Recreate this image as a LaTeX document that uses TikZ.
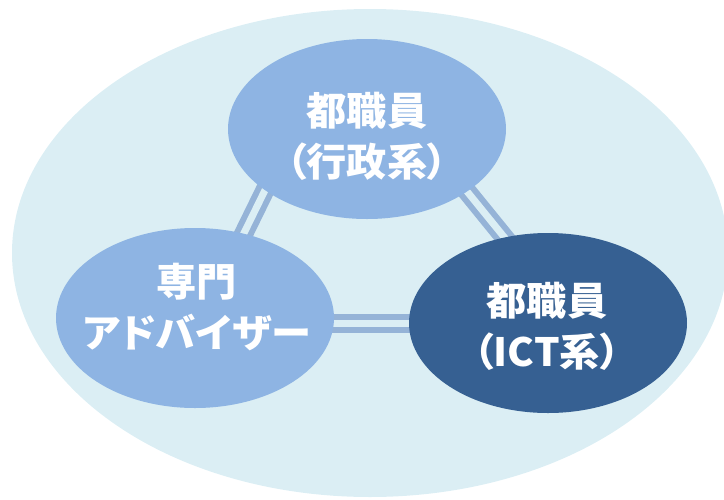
\documentclass[tikz,border=0pt]{standalone}
\usepackage{fontspec}
\newfontfamily\jpfont{Noto Sans CJK JP}[RawFeature=+palt,FakeStretch=1.03]
\usetikzlibrary{shapes.geometric,backgrounds}
\definecolor{bgfill}{HTML}{DBEEF4}
\definecolor{lightblue}{HTML}{8EB4E3}
\definecolor{darkblue}{HTML}{366092}
\definecolor{linkcol}{HTML}{95B3D7}
\tikzset{
  member/.style={ellipse, minimum width=278pt, minimum height=180pt, inner sep=0pt, draw=none},
  lbl/.style={text=white, align=center, font=\jpfont\bfseries\fontsize{39pt}{51pt}\selectfont},
  link/.style={draw=linkcol, line width=6pt, double=bgfill, double distance=7pt, shorten <=-6pt, shorten >=-6pt}
}
\begin{document}
\begin{tikzpicture}[x=1pt,y=-1pt]
\useasboundingbox (0,0) rectangle (724,499);
\node[member, fill=lightblue] (top) at (367,129) {};
\node[member, fill=lightblue] (left) at (195,318) {};
\node[member, fill=darkblue] (right) at (548,323) {};
\node[lbl] (toptxt) at (367,136) {都職員\\（行政系）};
\node[lbl] (lefttxt) at (197,307) {専門\\アドバイザー};
\node[lbl] (righttxt) at (547,326) {都職員\\（ICT系）};
\begin{scope}[on background layer]
  \fill[bgfill] (370,253) ellipse [x radius=358pt, y radius=244pt];
  \draw[link] (top.211) -- (left.60);
  \draw[link] (top.328) -- (right.117);
  \draw[link] (left.east |- right.west) -- (right.west);
\end{scope}
\end{tikzpicture}
\end{document}
